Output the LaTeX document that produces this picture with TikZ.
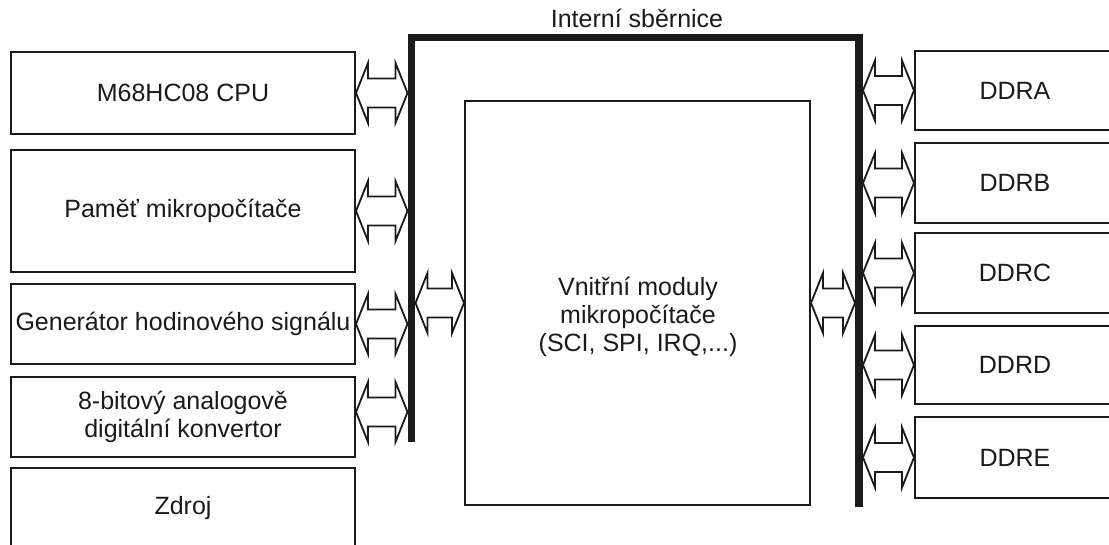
\documentclass[tikz,border=0pt]{standalone}
\usepackage{fontspec}
\setmainfont{Liberation Sans}
\usetikzlibrary{calc}
\definecolor{ink}{HTML}{1A1A1A}
\begin{document}
\begin{tikzpicture}[x=1pt,y=-1pt,
  blk/.style={draw=ink, line width=2pt, inner sep=0pt, align=center,
    font=\fontsize{25}{28}\selectfont, text=ink},
  lbl/.style={inner sep=0pt, align=center, font=\fontsize{25}{28}\selectfont, text=ink},
  busline/.style={draw=ink, line width=7.5pt, line cap=butt, line join=miter},
  fat/.style={draw=ink, fill=white, line width=1.8pt, line join=miter,
    to path={let \p1=(\tikztostart), \p2=(\tikztotarget) in
      (\x1,\y1) -- ++(12pt,30pt) -- ++(0pt,-15.5pt) -- ({\x2-12pt},{\y1+14.5pt})
      -- ++(0pt,15.5pt) -- (\x2,\y1) -- ++(-12pt,-30pt) -- ++(0pt,15.5pt)
      -- ({\x1+12pt},{\y1-14.5pt}) -- ++(0pt,-15.5pt) -- cycle}}]
\useasboundingbox (0,0) rectangle (1109,545);
\clip (0,0) rectangle (1109,545);

% left blocks
\node[blk, minimum width=344pt, minimum height=82pt]  (cpu)   at (183,93)  {M68HC08 CPU};
\node[blk, minimum width=344pt, minimum height=122pt] (mem)   at (183,211) {Paměť mikropočítače};
\node[blk, minimum width=344pt, minimum height=80pt]  (gen)   at (183,324) {Generátor hodinového signálu};
\node[blk, minimum width=344pt, minimum height=80pt]  (adc)   at (183,417) {8-bitový analogově\\digitální konvertor};
\node[blk, minimum width=344pt, minimum height=80pt]  (zdroj) at (183,508) {Zdroj};

% central block
\node[blk, minimum width=345pt, minimum height=404pt] (core) at (637.5,303) {};
\node[lbl] (coretxt) at (638,317) {Vnitřní moduly\\mikropočítače\\(SCI, SPI, IRQ,...)};

% right blocks
\node[blk, minimum width=200pt, minimum height=79pt] (ddra) at (1015,90.5)  {DDRA};
\node[blk, minimum width=200pt, minimum height=80pt] (ddrb) at (1015,183)   {DDRB};
\node[blk, minimum width=200pt, minimum height=80pt] (ddrc) at (1015,273)   {DDRC};
\node[blk, minimum width=200pt, minimum height=78pt] (ddrd) at (1015,365)   {DDRD};
\node[blk, minimum width=200pt, minimum height=81pt] (ddre) at (1015,457.5) {DDRE};

% internal bus
\coordinate (bl) at (411.5,442);
\coordinate (tl) at (411.5,37.5);
\coordinate (tr) at (859,37.5);
\coordinate (br) at (859,507);
\draw[busline] (bl) -- (tl) -- (tr) -- (br);
\node[lbl] (title) at (637,18) {Interní sběrnice};

% bus edges
\coordinate (lbW) at (407.5,0);
\coordinate (lbE) at (415.5,0);
\coordinate (rbW) at (855,0);
\coordinate (rbE) at (863,0);

% arrows
\draw[fat] (cpu.east) to (cpu.east -| lbW);
\draw[fat] (mem.east) to (mem.east -| lbW);
\draw[fat] (gen.east) to (gen.east -| lbW);
\draw[fat] ([yshift=5pt]adc.east) to ([yshift=5pt]adc.east -| lbW);
\draw[fat] (core.west -| lbE) to (core.west);
\draw[fat] (core.east) to (core.east -| rbW);
\draw[fat] (ddra.west -| rbE) to (ddra.west);
\draw[fat] (ddrb.west -| rbE) to (ddrb.west);
\draw[fat] (ddrc.west -| rbE) to (ddrc.west);
\draw[fat] (ddrd.west -| rbE) to (ddrd.west);
\draw[fat] (ddre.west -| rbE) to (ddre.west);
\end{tikzpicture}
\end{document}
